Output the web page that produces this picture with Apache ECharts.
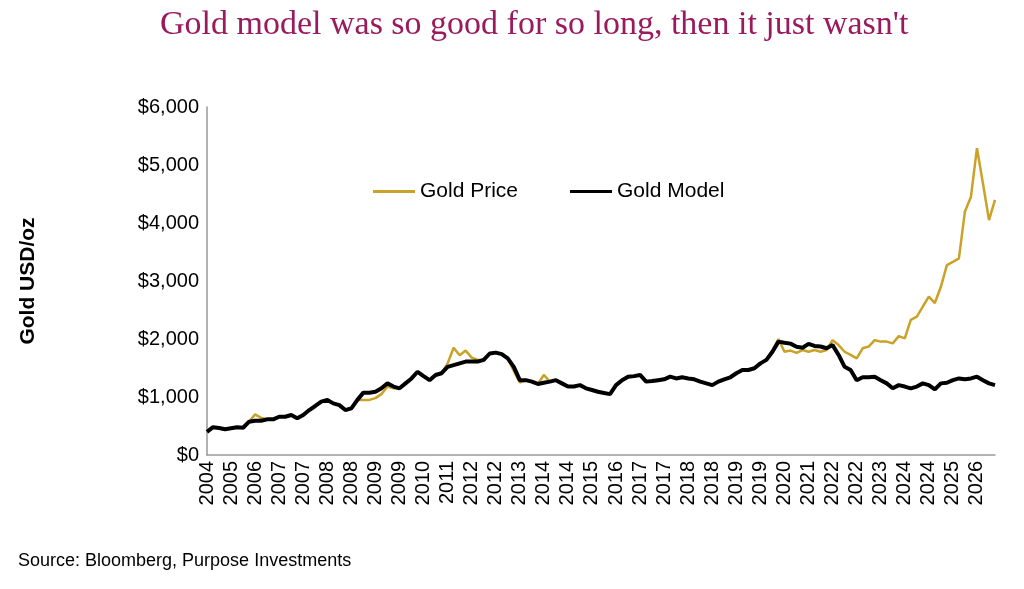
<!DOCTYPE html>
<html>
<head>
<meta charset="utf-8">
<script src="https://cdn.jsdelivr.net/npm/echarts@6/dist/echarts.min.js"></script>
<style>
html, body { margin: 0; padding: 0; background: #fff; }
#main { width: 1024px; height: 589px; }
</style>
</head>
<body>
<div id="main"></div>
<script>
// year labels shown on every 4th point
var tickLabels = ['2004','2005','2006','2007','2007','2008','2008','2009','2009','2010','2011',
	'2012','2012','2013','2014','2014','2015','2016','2017','2017','2018','2018','2019','2019',
	'2020','2021','2022','2022','2023','2024','2024','2025','2026'];

var goldModel = [400,480,465,443,460,477,470,575,590,590,615,615,660,660,690,632,690,775,845,920,
	950,890,860,775,805,950,1075,1075,1090,1150,1235,1180,1150,1235,1320,1435,1360,1290,1380,1410,
	1520,1550,1580,1610,1610,1610,1640,1750,1765,1740,1665,1520,1290,1290,1265,1225,1245,1265,1290,1235,
	1180,1180,1205,1150,1120,1090,1070,1050,1205,1290,1350,1360,1380,1265,1275,1290,1305,1350,1320,1340,
	1320,1305,1265,1235,1205,1265,1305,1340,1410,1465,1465,1495,1580,1640,1780,1955,1935,1920,1865,1850,
	1915,1880,1870,1840,1895,1725,1520,1465,1290,1340,1340,1350,1290,1235,1150,1205,1180,1150,1180,1235,
	1205,1130,1235,1245,1290,1320,1305,1320,1350,1290,1235,1205];

var goldPrice = [400,480,465,443,460,477,470,575,700,640,615,615,660,660,690,632,690,775,845,920,
	950,890,860,790,805,950,950,950,980,1050,1180,1150,1150,1235,1320,1435,1360,1290,1380,1410,
	1580,1850,1720,1800,1680,1640,1640,1750,1765,1740,1665,1450,1250,1290,1265,1225,1380,1265,1290,1235,
	1180,1180,1205,1150,1120,1090,1070,1050,1205,1290,1350,1360,1380,1265,1275,1290,1305,1350,1320,1340,
	1320,1305,1265,1235,1205,1265,1305,1340,1410,1465,1465,1495,1580,1640,1800,2000,1780,1800,1760,1810,
	1780,1810,1780,1810,1980,1895,1780,1725,1665,1840,1870,1980,1955,1955,1925,2050,2010,2330,2385,2560,
	2730,2620,2900,3275,3330,3390,4200,4450,5290,4680,4050,4400];

var categories = [];
for(var i = 0; i < goldModel.length; i++) {
	categories.push(i % 4 == 0 ? tickLabels[i / 4] : '');
}

var chart = echarts.init(document.getElementById('main'));
chart.setOption({
	animation: false,
	textStyle: { fontFamily: 'Liberation Sans, Arial, sans-serif' },
	title: {
		text: "Gold model was so good for so long, then it just wasn't",
		left: 155,
		top: 3,
		textStyle: { fontFamily: 'Liberation Serif, serif', fontSize: 34, fontWeight: 'normal', color: '#9a1a5e' }
	},
	legend: {
		top: 176,
		left: 368,
		itemGap: 52,
		itemWidth: 42,
		icon: 'rect',
		itemHeight: 3,
		textStyle: { fontSize: 21, color: '#000' },
		data: ['Gold Price', 'Gold Model']
	},
	grid: { left: 207, right: 29, top: 107, bottom: 134 },
	xAxis: {
		type: 'category',
		boundaryGap: false,
		data: categories,
		axisLine: { lineStyle: { color: '#999', width: 1.5 } },
		axisTick: { show: false },
		axisLabel: {
			interval: 0,
			rotate: 90,
			margin: 6,
			fontSize: 20,
			color: '#000'
		}
	},
	yAxis: {
		type: 'value',
		min: 0,
		max: 6000,
		interval: 1000,
		name: 'Gold USD/oz',
		nameLocation: 'middle',
		nameGap: 168,
		nameTextStyle: { fontSize: 21, fontWeight: 'bold', color: '#000' },
		axisLine: { show: true, lineStyle: { color: '#999', width: 1.5 } },
		axisTick: { show: false },
		splitLine: { show: false },
		axisLabel: {
			fontSize: 20,
			color: '#000',
			margin: 8,
			formatter: function(v) { return '$' + v.toLocaleString('en-US'); }
		}
	},
	series: [{
		name: 'Gold Price',
		type: 'line',
		data: goldPrice,
		symbol: 'none',
		lineStyle: { color: '#c9a227', width: 2.5 },
		itemStyle: { color: '#c9a227' }
	}, {
		name: 'Gold Model',
		type: 'line',
		data: goldModel,
		symbol: 'none',
		lineStyle: { color: '#000', width: 4 },
		itemStyle: { color: '#000' }
	}],
	graphic: [{
		type: 'text',
		left: 18,
		top: 552,
		style: { text: 'Source: Bloomberg, Purpose Investments', fontSize: 18, fill: '#000', fontFamily: 'Liberation Sans, Arial, sans-serif' }
	}]
});
</script>
</body>
</html>
